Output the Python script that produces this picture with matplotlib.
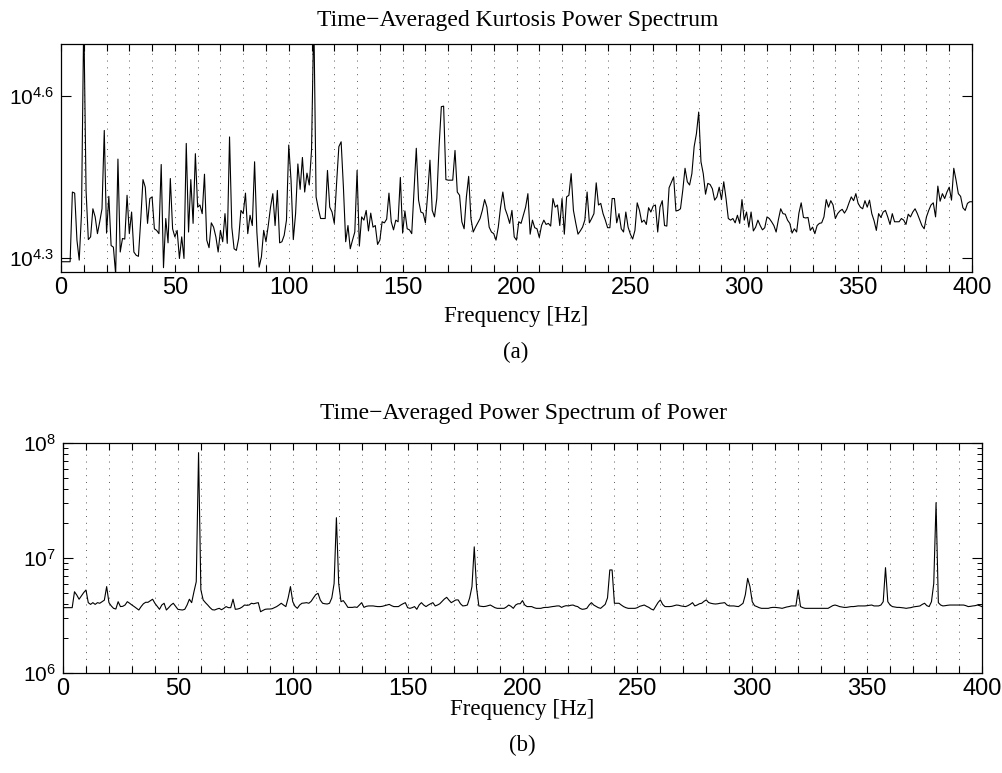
import numpy as np
import matplotlib
matplotlib.use("Agg")
import matplotlib.pyplot as plt
from matplotlib.ticker import FixedLocator, MultipleLocator, FuncFormatter, LogLocator, NullFormatter

# ---------------- data ----------------
freq_hz = np.arange(0, 401)  # 1 Hz bins, 0..400 Hz

# (a) kurtosis power spectrum, stored as log10 of the value
kurtosis_log10 = [
    4.293, 4.293, 4.293, 4.293, 4.293, 4.422, 4.420, 4.333, 4.296, 4.382,
    4.750, 4.425, 4.334, 4.339, 4.391, 4.376, 4.345, 4.367, 4.391, 4.536,
    4.346, 4.414, 4.323, 4.320, 4.270, 4.483, 4.311, 4.336, 4.335, 4.416,
    4.345, 4.385, 4.311, 4.305, 4.303, 4.370, 4.445, 4.431, 4.364, 4.410,
    4.413, 4.354, 4.351, 4.345, 4.473, 4.282, 4.373, 4.328, 4.447, 4.354,
    4.339, 4.351, 4.299, 4.339, 4.299, 4.512, 4.348, 4.445, 4.364, 4.493,
    4.394, 4.398, 4.382, 4.455, 4.333, 4.319, 4.365, 4.357, 4.339, 4.311,
    4.351, 4.330, 4.382, 4.327, 4.524, 4.357, 4.317, 4.314, 4.336, 4.388,
    4.382, 4.420, 4.345, 4.379, 4.360, 4.478, 4.348, 4.283, 4.302, 4.351,
    4.330, 4.360, 4.394, 4.419, 4.360, 4.425, 4.328, 4.330, 4.342, 4.370,
    4.509, 4.444, 4.334, 4.382, 4.474, 4.427, 4.486, 4.422, 4.457, 4.435,
    4.499, 4.750, 4.413, 4.391, 4.373, 4.373, 4.373, 4.462, 4.394, 4.385,
    4.364, 4.438, 4.506, 4.515, 4.431, 4.330, 4.360, 4.317, 4.333, 4.348,
    4.462, 4.322, 4.376, 4.370, 4.388, 4.350, 4.383, 4.357, 4.360, 4.325,
    4.333, 4.367, 4.365, 4.372, 4.420, 4.367, 4.352, 4.370, 4.367, 4.449,
    4.346, 4.387, 4.354, 4.352, 4.345, 4.425, 4.503, 4.407, 4.385, 4.383,
    4.365, 4.418, 4.481, 4.388, 4.376, 4.410, 4.506, 4.580, 4.581, 4.445,
    4.444, 4.444, 4.444, 4.499, 4.422, 4.416, 4.367, 4.354, 4.413, 4.451,
    4.373, 4.348, 4.357, 4.365, 4.373, 4.388, 4.408, 4.394, 4.357, 4.348,
    4.345, 4.333, 4.357, 4.394, 4.422, 4.391, 4.379, 4.364, 4.388, 4.339,
    4.333, 4.367, 4.364, 4.379, 4.394, 4.419, 4.344, 4.370, 4.356, 4.354,
    4.338, 4.360, 4.370, 4.362, 4.364, 4.359, 4.410, 4.394, 4.398, 4.360,
    4.410, 4.344, 4.413, 4.416, 4.456, 4.388, 4.365, 4.344, 4.350, 4.357,
    4.370, 4.422, 4.365, 4.373, 4.382, 4.439, 4.398, 4.401, 4.382, 4.370,
    4.356, 4.356, 4.410, 4.410, 4.365, 4.382, 4.354, 4.348, 4.385, 4.357,
    4.344, 4.335, 4.351, 4.402, 4.388, 4.366, 4.370, 4.362, 4.393, 4.385,
    4.396, 4.398, 4.348, 4.394, 4.406, 4.360, 4.359, 4.430, 4.440, 4.450,
    4.387, 4.388, 4.391, 4.425, 4.466, 4.441, 4.435, 4.456, 4.506, 4.530,
    4.570, 4.478, 4.456, 4.418, 4.438, 4.436, 4.428, 4.407, 4.413, 4.431,
    4.408, 4.441, 4.410, 4.373, 4.370, 4.373, 4.365, 4.379, 4.364, 4.408,
    4.370, 4.385, 4.357, 4.385, 4.350, 4.357, 4.370, 4.360, 4.352, 4.356,
    4.376, 4.373, 4.367, 4.360, 4.348, 4.371, 4.391, 4.382, 4.381, 4.370,
    4.364, 4.346, 4.354, 4.348, 4.383, 4.402, 4.375, 4.374, 4.375, 4.351,
    4.357, 4.345, 4.360, 4.364, 4.365, 4.376, 4.408, 4.394, 4.406, 4.398,
    4.373, 4.382, 4.387, 4.390, 4.383, 4.390, 4.402, 4.413, 4.406, 4.419,
    4.401, 4.394, 4.391, 4.406, 4.394, 4.407, 4.382, 4.369, 4.351, 4.382,
    4.375, 4.385, 4.388, 4.376, 4.362, 4.382, 4.367, 4.367, 4.367, 4.373,
    4.370, 4.362, 4.381, 4.376, 4.385, 4.391, 4.382, 4.371, 4.360, 4.354,
    4.376, 4.388, 4.398, 4.402, 4.376, 4.433, 4.405, 4.419, 4.410, 4.422,
    4.431, 4.407, 4.466, 4.444, 4.419, 4.414, 4.393, 4.388, 4.401, 4.404,
    4.404,
]

# (b) power spectrum of power, in units of 1e6
power_1e6 = [
    3.70, 3.70, 3.70, 3.70, 3.70, 5.09, 4.76, 4.38, 4.68, 5.00,
    5.27, 4.09, 3.95, 4.09, 3.95, 4.09, 4.04, 4.17, 4.30, 5.64,
    4.09, 3.83, 3.65, 3.60, 4.17, 3.78, 3.80, 3.90, 4.17, 4.04,
    3.90, 3.78, 3.65, 3.53, 3.78, 4.00, 4.12, 4.12, 4.25, 4.38,
    4.04, 3.80, 3.58, 3.90, 4.04, 3.53, 3.70, 3.90, 4.04, 3.80,
    3.58, 3.55, 3.53, 3.58, 3.90, 4.38, 4.09, 5.09, 6.22, 82.4,
    5.30, 4.32, 4.09, 3.90, 3.70, 3.55, 3.53, 3.60, 3.65, 3.55,
    3.65, 3.78, 3.70, 3.70, 4.38, 3.58, 3.60, 3.65, 3.75, 3.90,
    3.88, 3.90, 4.04, 4.00, 4.05, 4.09, 3.41, 3.50, 3.58, 3.60,
    3.60, 3.62, 3.70, 3.78, 3.90, 4.04, 3.90, 3.78, 4.50, 5.64,
    4.17, 3.80, 3.65, 3.90, 4.04, 4.06, 4.09, 4.04, 4.20, 4.50,
    4.80, 4.93, 4.30, 4.04, 4.00, 3.98, 4.04, 4.50, 6.00, 22.4,
    6.00, 4.17, 4.26, 4.00, 3.72, 3.72, 3.72, 3.75, 3.72, 3.90,
    4.09, 3.72, 3.80, 3.83, 3.83, 3.83, 3.80, 3.78, 3.78, 3.80,
    3.85, 3.90, 3.95, 3.85, 3.78, 3.78, 3.78, 3.90, 4.00, 4.09,
    3.70, 3.65, 3.70, 3.78, 3.58, 3.90, 4.09, 3.90, 3.78, 3.90,
    4.00, 4.09, 3.83, 3.90, 4.00, 4.20, 4.40, 4.55, 4.30, 4.09,
    4.20, 4.32, 4.32, 4.00, 3.83, 3.85, 3.90, 4.50, 5.64, 12.5,
    5.50, 3.83, 3.80, 3.78, 3.80, 3.85, 3.90, 3.80, 3.70, 3.65,
    3.65, 3.65, 3.65, 3.75, 3.90, 3.80, 3.65, 3.90, 4.00, 4.00,
    4.26, 3.90, 3.78, 3.78, 3.78, 3.70, 3.65, 3.65, 3.65, 3.70,
    3.72, 3.72, 3.75, 3.78, 3.80, 3.83, 3.83, 3.72, 3.80, 3.85,
    3.83, 3.88, 3.90, 3.82, 3.78, 3.65, 3.58, 3.60, 3.65, 3.90,
    4.09, 3.90, 3.80, 3.70, 3.65, 3.80, 3.95, 4.50, 7.87, 7.87,
    4.04, 4.04, 4.04, 3.90, 3.78, 3.70, 3.65, 3.65, 3.65, 3.65,
    3.70, 3.80, 3.85, 3.90, 3.80, 3.72, 3.60, 3.53, 3.80, 4.10,
    4.32, 3.95, 3.78, 3.78, 3.78, 3.80, 3.85, 3.90, 3.88, 3.83,
    3.80, 3.78, 3.85, 3.95, 4.09, 3.83, 3.90, 4.00, 4.04, 4.20,
    4.32, 4.10, 4.04, 4.00, 3.98, 4.00, 4.04, 4.06, 4.09, 3.90,
    3.83, 3.83, 3.83, 3.80, 3.78, 3.90, 4.04, 4.80, 6.65, 5.64,
    4.17, 3.85, 3.78, 3.70, 3.65, 3.65, 3.65, 3.65, 3.70, 3.72,
    3.72, 3.70, 3.68, 3.65, 3.70, 3.75, 3.78, 3.83, 3.83, 3.83,
    5.27, 3.78, 3.70, 3.65, 3.65, 3.65, 3.65, 3.65, 3.65, 3.65,
    3.65, 3.65, 3.65, 3.65, 3.75, 3.85, 3.90, 3.85, 3.78, 3.75,
    3.72, 3.72, 3.75, 3.78, 3.78, 3.80, 3.83, 3.83, 3.83, 3.83,
    3.85, 3.88, 3.90, 3.83, 3.83, 3.83, 3.90, 4.17, 8.24, 4.17,
    3.90, 3.78, 3.75, 3.72, 3.72, 3.70, 3.68, 3.65, 3.68, 3.70,
    3.75, 3.78, 3.80, 3.83, 3.95, 4.04, 3.85, 3.78, 4.17, 6.00,
    30.3, 4.09, 3.90, 3.83, 3.85, 3.88, 3.90, 3.90, 3.90, 3.90,
    3.90, 3.90, 3.90, 3.85, 3.78, 3.80, 3.83, 3.85, 3.90, 3.85,
    3.78,
]

title_a = "Time\u2212Averaged Kurtosis Power Spectrum"
title_b = "Time\u2212Averaged Power Spectrum of Power"
xlabel = "Frequency [Hz]"
xtick_labels = [0, 50, 100, 150, 200, 250, 300, 350, 400]
kurt_ytick_exps = [4.3, 4.6]
power_ytick_exps = [6, 7, 8]

# ---------------- figure ----------------
W, H = 1003, 773
fig = plt.figure(figsize=(W / 100, H / 100), dpi=100)

SERIF = ["Liberation Serif", "DejaVu Serif"]
SANS = ["Liberation Sans", "DejaVu Sans"]
plt.rcParams["font.family"] = SANS
plt.rcParams["mathtext.default"] = "regular"

def px_rect(x0, y0, x1, y1):
    return [x0 / W, 1 - y1 / H, (x1 - x0) / W, (y1 - y0) / H]

ax1 = fig.add_axes(px_rect(61, 44, 972, 272))
ax2 = fig.add_axes(px_rect(63, 443, 982, 673))

kurt = 10 ** np.asarray(kurtosis_log10)
power = np.asarray(power_1e6) * 1e6

for ax in (ax1, ax2):
    for s in ax.spines.values():
        s.set_linewidth(0.9)
        s.set_color("black")
    ax.set_xlim(0, 400)
    ax.xaxis.set_major_locator(MultipleLocator(10))
    ax.xaxis.set_major_formatter(FuncFormatter(
        lambda v, p: f"{int(round(v))}" if int(round(v)) in xtick_labels else ""))
    ax.grid(True, axis="x", which="major", color="0.35",
            linestyle=(0, (1, 6)), linewidth=0.7)
    ax.tick_params(axis="x", which="major", direction="in", top=True, bottom=True,
                   length=5, width=0.8, labelsize=17, pad=3.5)
    ax.tick_params(axis="y", which="both", direction="in", left=True, right=True,
                   labelsize=15, pad=5)
    ax.tick_params(axis="y", which="major", length=7, width=0.8)
    ax.tick_params(axis="y", which="minor", length=3.5, width=0.7)
    ax.set_axisbelow(True)

# (a)
ax1.plot(freq_hz, kurt, color="black", linewidth=0.8, clip_on=True)
ax1.set_yscale("log")
ax1.set_ylim(10 ** 4.274, 10 ** 4.696)
ax1.yaxis.set_major_locator(FixedLocator([10 ** e for e in kurt_ytick_exps]))
ax1.yaxis.set_minor_locator(FixedLocator([]))
ax1.yaxis.set_major_formatter(FuncFormatter(
    lambda v, p: r"$10^{%.1f}$" % np.log10(v)))
ax1.yaxis.set_minor_formatter(NullFormatter())

# (b)
ax2.plot(freq_hz, power, color="black", linewidth=0.8)
ax2.set_yscale("log")
ax2.set_ylim(1e6, 1e8)
ax2.yaxis.set_major_locator(FixedLocator([10.0 ** e for e in power_ytick_exps]))
ax2.yaxis.set_minor_locator(LogLocator(base=10, subs=np.arange(2, 10)))
ax2.yaxis.set_major_formatter(FuncFormatter(
    lambda v, p: r"$10^{%d}$" % round(np.log10(v))))
ax2.yaxis.set_minor_formatter(NullFormatter())

def ftext(xpx, ypx, s, size=17, **kw):
    fig.text(xpx / W, 1 - ypx / H, s, family=SERIF, fontsize=size,
             ha="center", va="baseline", **kw)

ftext(518, 26, title_a)
ftext(516, 322, xlabel, size=16.5)
ftext(516, 358, "(a)", size=16.5)
ftext(524, 419, title_b)
ftext(522, 715, xlabel, size=16.5)
ftext(522, 751, "(b)", size=16.5)

fig.savefig("out.png", dpi=100, facecolor="white")
